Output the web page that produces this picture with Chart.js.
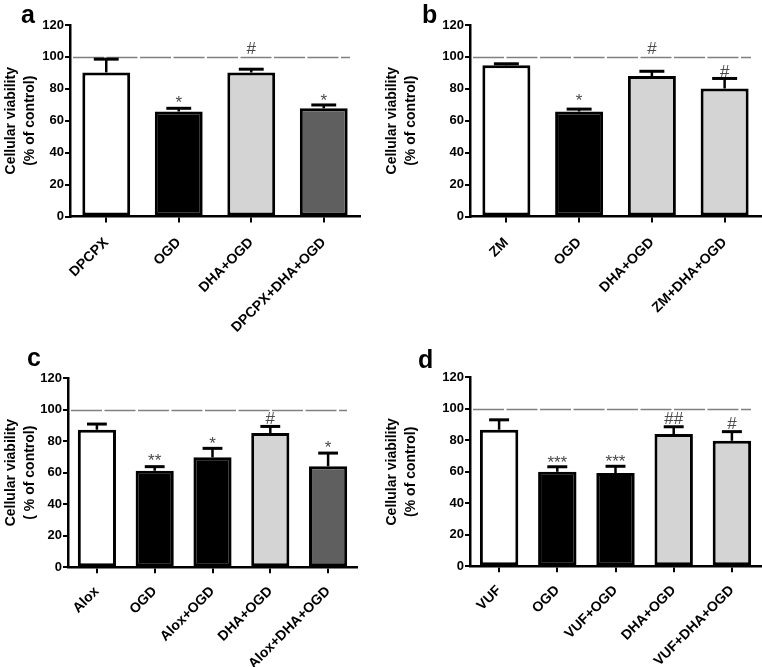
<!DOCTYPE html>
<html><head><meta charset="utf-8">
<script src="https://cdn.jsdelivr.net/npm/chart.js@4"></script>
<style>
html,body{margin:0;padding:0;background:#fff;}
#wrap{position:relative;width:762px;height:667px;overflow:hidden;}
canvas{position:absolute;}
</style></head><body>
<div id="wrap">
<canvas id="ca" width="381" height="334" style="left:0;top:0"></canvas>
<canvas id="cb" width="381" height="334" style="left:381px;top:0"></canvas>
<canvas id="cc" width="381" height="333" style="left:0;top:334px"></canvas>
<canvas id="cd" width="381" height="333" style="left:381px;top:334px"></canvas>
</div>
<script>
// ---- data ----
const yTicks = [0, 20, 40, 60, 80, 100, 120];
const controlLevel = 100;

const catsA = ['DPCPX', 'OGD', 'DHA+OGD', 'DPCPX+DHA+OGD'];
const valsA = [90.3, 65.8, 90.2, 67.8];
const errA  = [8.3, 2.0, 2.1, 2.1];
const marksA = ['', '*', '#', '*'];
const markLevelA = [null, 73.8, 105.4, 75.1];

const catsB = ['ZM', 'OGD', 'DHA+OGD', 'ZM+DHA+OGD'];
const valsB = [94.7, 65.8, 88.0, 80.2];
const errB  = [1.0, 1.5, 3.0, 6.3];
const marksB = ['', '*', '#', '#'];
const markLevelB = [null, 74.7, 105.8, 91.4];

const catsC = ['Alox', 'OGD', 'Alox+OGD', 'DHA+OGD', 'Alox+DHA+OGD'];
const valsC = [87.2, 61.2, 69.7, 85.1, 64.0];
const errC  = [3.6, 2.6, 5.7, 4.2, 8.4];
const marksC = ['', '**', '*', '#', '*'];
const markLevelC = [null, 70.1, 80.9, 94.6, 78.1];

const catsD = ['VUF', 'OGD', 'VUF+OGD', 'DHA+OGD', 'VUF+DHA+OGD'];
const valsD = [86.7, 60.0, 59.2, 84.0, 79.7];
const errD  = [6.3, 3.2, 4.3, 4.6, 5.8];
const marksD = ['', '***', '***', '##', '#'];
const markLevelD = [null, 68.1, 68.8, 94.0, 91.0];

// ---- styles ----
const WHITE = '#ffffff', BLACK = '#000000', LIGHT = '#d4d4d4', DARK = '#5f5f5f';
const FONT = '"Liberation Sans", Arial, Helvetica, sans-serif';

const errorBars = {
  id: 'errorBars',
  afterDatasetsDraw(chart, args, opts) {
    const ctx = chart.ctx, y = chart.scales.y;
    const meta = chart.getDatasetMeta(0);
    const data = chart.data.datasets[0].data;
    ctx.save();
    ctx.strokeStyle = '#000';
    meta.data.forEach((bar, i) => {
      const e = opts.err[i];
      const yBar = y.getPixelForValue(data[i]);
      const yTop = y.getPixelForValue(data[i] + e);
      const cw = bar.width * 0.52;
      ctx.lineWidth = 2.5;
      ctx.beginPath(); ctx.moveTo(bar.x, yBar); ctx.lineTo(bar.x, yTop); ctx.stroke();
      ctx.lineWidth = 3;
      ctx.beginPath(); ctx.moveTo(bar.x - cw / 2, yTop); ctx.lineTo(bar.x + cw / 2, yTop); ctx.stroke();
    });
    ctx.restore();
  }
};

const refLine = {
  id: 'refLine',
  beforeDatasetsDraw(chart, args, opts) {
    const ctx = chart.ctx, a = chart.chartArea, y = chart.scales.y;
    const py = Math.round(y.getPixelForValue(opts.value)) + 0.5;
    ctx.save();
    ctx.strokeStyle = '#808080';
    ctx.lineWidth = 1.5;
    ctx.setLineDash([31, 2.5]);
    ctx.beginPath(); ctx.moveTo(a.left + 3, py); ctx.lineTo(a.right - 10, py); ctx.stroke();
    ctx.restore();
  }
};

const marks = {
  id: 'marks',
  afterDatasetsDraw(chart, args, opts) {
    const ctx = chart.ctx, y = chart.scales.y;
    const meta = chart.getDatasetMeta(0);
    ctx.save();
    ctx.fillStyle = '#4a4a4a';
    ctx.font = '17px ' + FONT;
    ctx.textAlign = 'center';
    ctx.textBaseline = 'alphabetic';
    meta.data.forEach((bar, i) => {
      const t = opts.text[i];
      if (!t) return;
      const m = ctx.measureText(t);
      const yc = y.getPixelForValue(opts.level[i]);
      const yb = yc + (m.actualBoundingBoxAscent - m.actualBoundingBoxDescent) / 2;
      ctx.fillText(t, bar.x, yb);
    });
    ctx.restore();
  }
};

const panelLetter = {
  id: 'panelLetter',
  afterDraw(chart, args, opts) {
    const ctx = chart.ctx;
    ctx.save();
    ctx.fillStyle = '#000';
    ctx.font = 'bold 25px ' + FONT;
    ctx.textAlign = 'left';
    ctx.textBaseline = 'alphabetic';
    ctx.fillText(opts.text, opts.x, opts.y);
    ctx.restore();
  }
};

function makePanel(id, cats, vals, errs, colors, markText, markLevel, title, letter, box) {
  const canvas = document.getElementById(id);
  const W = canvas.width, H = canvas.height;
  return new Chart(canvas, {
    type: 'bar',
    data: {
      labels: cats,
      datasets: [{
        data: vals,
        backgroundColor: colors,
        borderColor: '#000',
        borderWidth: 3,
        borderSkipped: false,
        barPercentage: 0.66,
        categoryPercentage: 1.0
      }]
    },
    options: {
      responsive: false,
      animation: false,
      devicePixelRatio: 1,
      events: [],
      layout: { padding: { left: 0, top: box.top, right: W - box.right, bottom: 0 } },
      plugins: {
        legend: { display: false },
        tooltip: { enabled: false },
        errorBars: { err: errs },
        refLine: { value: controlLevel },
        marks: { text: markText, level: markLevel },
        panelLetter: letter
      },
      scales: {
        x: {
          offset: true,
          afterFit: (s) => { s.height = H - box.bottom; },
          grid: { display: true, drawOnChartArea: false, drawTicks: true, tickLength: 6, color: '#000', lineWidth: 2, offset: false },
          border: { display: true, color: '#000', width: 2.5 },
          ticks: {
            autoSkip: false, minRotation: 45, maxRotation: 45, padding: box.labelPad,
            color: '#000', font: { family: FONT, size: 14, weight: 'bold' }
          }
        },
        y: {
          min: 0, max: 120,
          afterFit: (s) => { s.width = box.left; },
          afterBuildTicks: (s) => { s.ticks = yTicks.map(v => ({ value: v })); },
          grid: { display: true, drawOnChartArea: false, drawTicks: true, tickLength: 5, color: '#000', lineWidth: 2 },
          border: { display: true, color: '#000', width: 2.5 },
          ticks: { padding: 1, color: '#000', font: { family: FONT, size: 13, weight: 'bold' } },
          title: {
            display: true, text: title, color: '#000',
            font: { family: FONT, size: 14, weight: 'bold', lineHeight: 1.4 },
            padding: { top: 1, bottom: 0 }
          }
        }
      }
    },
    plugins: [refLine, errorBars, marks, panelLetter]
  });
}

makePanel('ca', catsA, valsA, errA, [WHITE, BLACK, LIGHT, DARK], marksA, markLevelA,
  ['Cellular viability', '(% of control)'], { text: 'a', x: 21, y: 23 },
  { left: 70, right: 360, top: 25, bottom: 216.5, labelPad: 12 });
makePanel('cb', catsB, valsB, errB, [WHITE, BLACK, LIGHT, LIGHT], marksB, markLevelB,
  ['Cellular viability', '(% of control)'], { text: 'b', x: 41, y: 23 },
  { left: 89, right: 380, top: 25, bottom: 216.5, labelPad: 12 });
makePanel('cc', catsC, valsC, errC, [WHITE, BLACK, BLACK, LIGHT, DARK], marksC, markLevelC,
  ['Cellular viability', '( % of control)'], { text: 'c', x: 27, y: 32 },
  { left: 68, right: 357, top: 44, bottom: 233.3, labelPad: 10 });
makePanel('cd', catsD, valsD, errD, [WHITE, BLACK, BLACK, LIGHT, LIGHT], marksD, markLevelD,
  ['Cellular viability', '(% of control)'], { text: 'd', x: 37, y: 34 },
  { left: 89, right: 380, top: 43.3, bottom: 232.3, labelPad: 10 });
</script>
</body></html>
